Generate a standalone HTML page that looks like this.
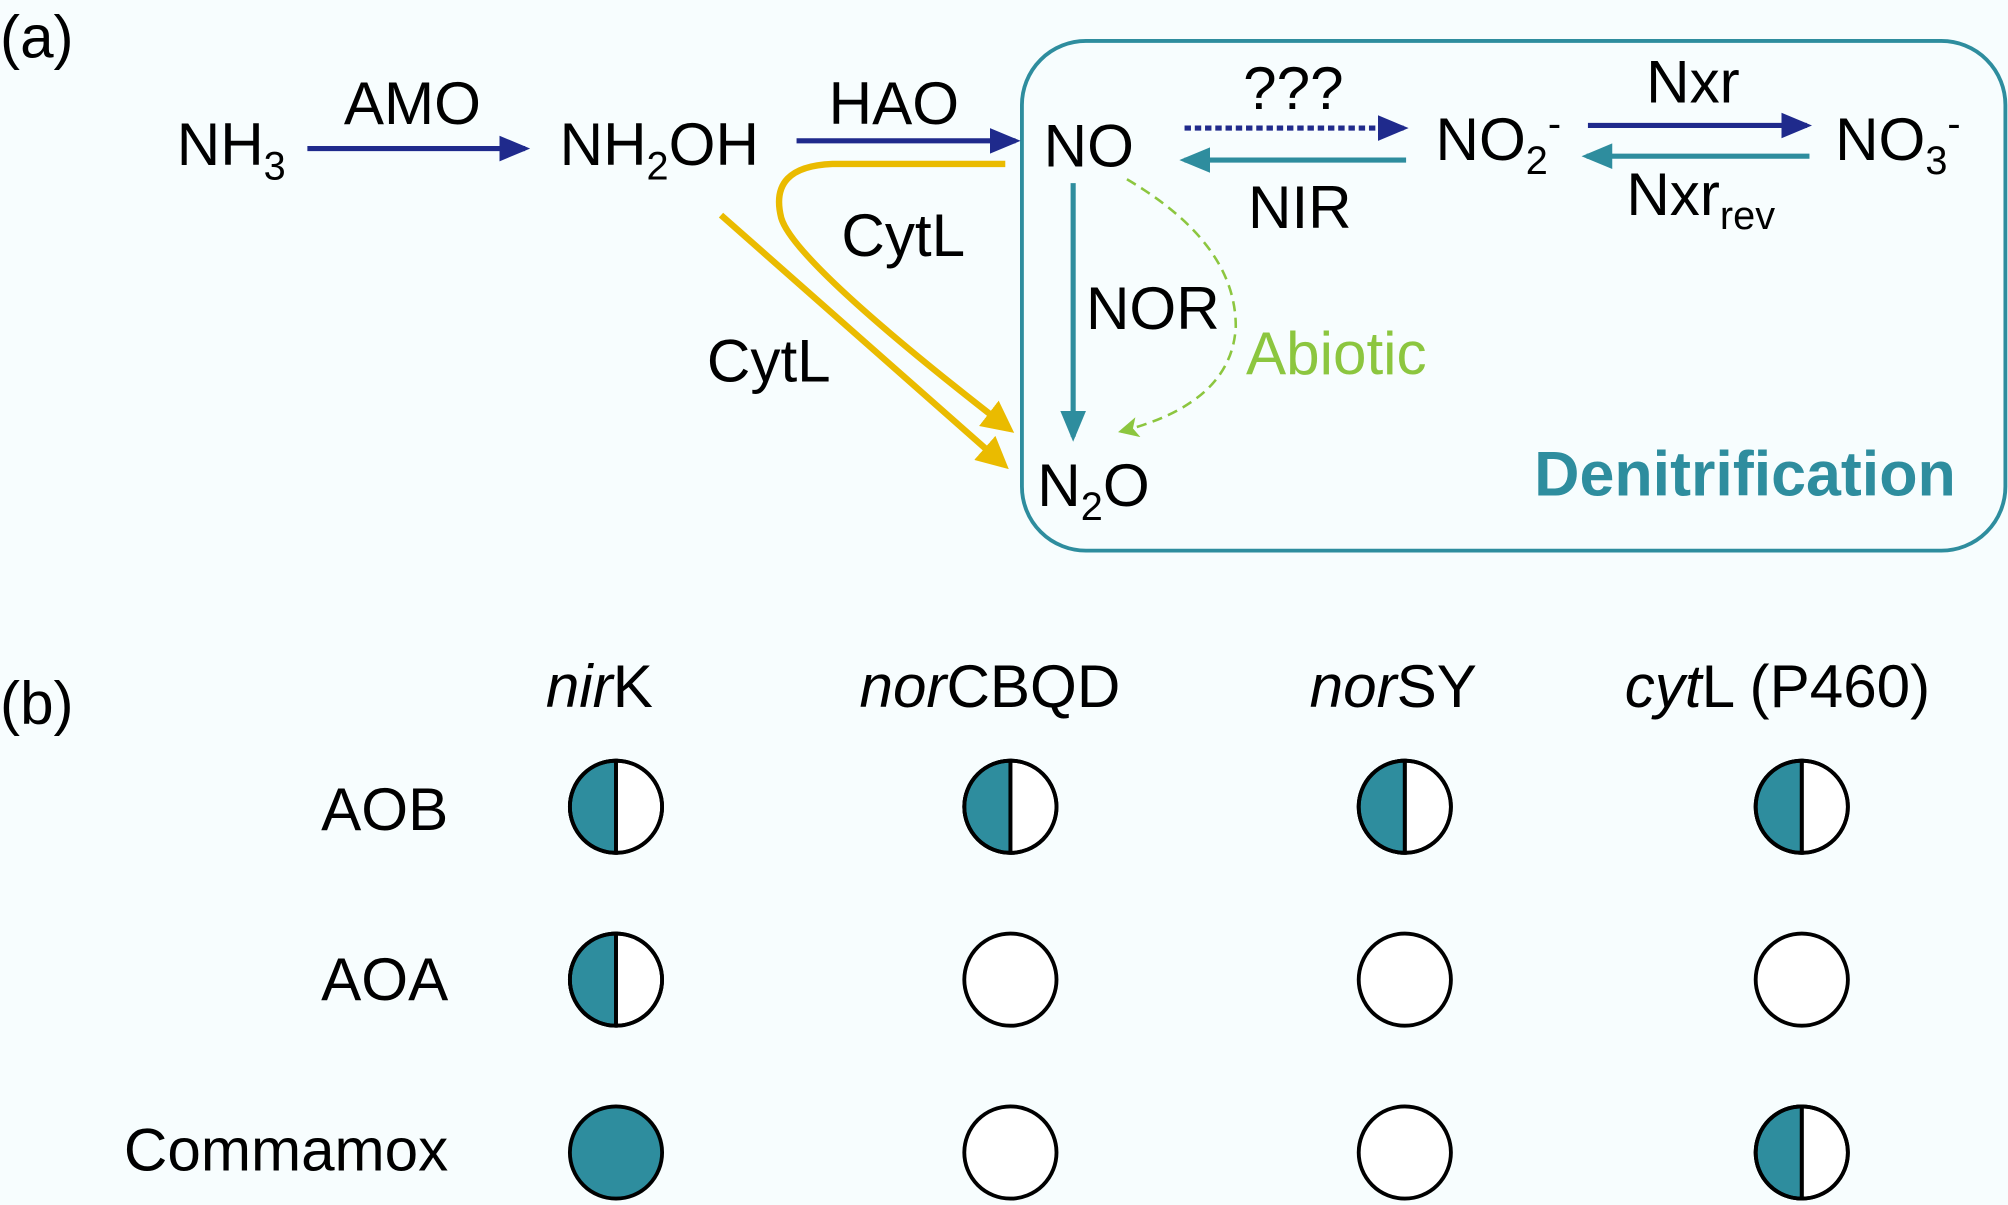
<!DOCTYPE html>
<html><head><meta charset="utf-8"><style>
html,body{margin:0;padding:0;background:#f7fdfe;}
svg{display:block;}
text{font-family:"Liberation Sans",sans-serif;fill:#000;}
</style></head><body>
<svg width="2008" height="1205" viewBox="0 0 1568 941" xmlns="http://www.w3.org/2000/svg">
<defs>
<marker id="an" markerWidth="6" markerHeight="6" refX="5" refY="3" orient="auto" markerUnits="strokeWidth"><path d="M0,0.5 L6,3 L0,5.5 Z" fill="#1f2a8c"/></marker>
<marker id="at" markerWidth="6" markerHeight="6" refX="5" refY="3" orient="auto" markerUnits="strokeWidth"><path d="M0,0.5 L6,3 L0,5.5 Z" fill="#2e8d9e"/></marker>
<marker id="ay" markerWidth="5" markerHeight="5" refX="4" refY="2.5" orient="auto" markerUnits="strokeWidth"><path d="M0,0 L5,2.5 L0,5 Z" fill="#eabb00"/></marker>
<marker id="ag" markerWidth="8" markerHeight="8" refX="7" refY="4" orient="auto" markerUnits="strokeWidth"><path d="M0,0 L8,4 L0,8 L2,4 Z" fill="#8cc63f"/></marker>
</defs>
<rect width="1568" height="941" fill="#f7fdfe"/>
<g font-size="47">
<text x="0" y="45">(a)</text>
<text x="138" y="129">NH<tspan font-size="31" dy="11">3</tspan></text>
<text x="322" y="97" text-anchor="middle">AMO</text>
<text x="437" y="129">NH<tspan font-size="31" dy="11">2</tspan><tspan dy="-11">OH</tspan></text>
<text x="698" y="97" text-anchor="middle">HAO</text>
<text x="815" y="130">NO</text>
<text x="1010" y="85" text-anchor="middle">???</text>
<text x="1015" y="178" text-anchor="middle">NIR</text>
<text x="1121" y="125">NO<tspan font-size="31" dy="11">2</tspan><tspan font-size="31" dy="-29">-</tspan></text>
<text x="1322" y="80" text-anchor="middle">Nxr</text>
<text x="1270" y="168">Nxr<tspan font-size="31" dy="11">rev</tspan></text>
<text x="1433" y="125">NO<tspan font-size="31" dy="11">3</tspan><tspan font-size="31" dy="-29">-</tspan></text>
<text x="848" y="257">NOR</text>
<text x="973" y="292" style="fill:#8cc63f">Abiotic</text>
<text x="810" y="395">N<tspan font-size="31" dy="11">2</tspan><tspan dy="-11">O</tspan></text>
<text x="657" y="200">CytL</text>
<text x="552" y="298">CytL</text>
<text x="1198" y="387" font-weight="bold" font-size="49" style="fill:#2e8d9e">Denitrification</text>
</g>
<rect x="798" y="32" width="768" height="398" rx="50" fill="none" stroke="#2e8d9e" stroke-width="3"/>
<g fill="none" stroke-width="4">
<line x1="240" y1="116" x2="410" y2="116" stroke="#1f2a8c" marker-end="url(#an)"/>
<line x1="622" y1="110" x2="793" y2="110" stroke="#1f2a8c" marker-end="url(#an)"/>
<line x1="925" y1="100" x2="1096" y2="100" stroke="#1f2a8c" stroke-dasharray="5,3" marker-end="url(#an)"/>
<line x1="1098" y1="125" x2="925" y2="125" stroke="#2e8d9e" marker-end="url(#at)"/>
<line x1="1240" y1="98" x2="1411" y2="98" stroke="#1f2a8c" marker-end="url(#an)"/>
<line x1="1413" y1="122" x2="1239" y2="122" stroke="#2e8d9e" marker-end="url(#at)"/>
<line x1="838" y1="143" x2="838" y2="341" stroke="#2e8d9e" marker-end="url(#at)"/>
<path d="M785,128 L650,128 Q600,130 610,170 Q620,205 788,335" stroke="#eabb00" stroke-width="5" marker-end="url(#ay)"/>
<line x1="563" y1="168" x2="784" y2="363" stroke="#eabb00" stroke-width="5" marker-end="url(#ay)"/>
<path d="M880,140 Q965,190 965,255 Q962,315 875,337" stroke="#8cc63f" stroke-width="2" stroke-dasharray="8,5" marker-end="url(#ag)"/>
</g>
<g font-size="47">
<text x="0" y="565">(b)</text>
<text x="468" y="552" text-anchor="middle"><tspan font-style="italic">nir</tspan>K</text>
<text x="773" y="552" text-anchor="middle"><tspan font-style="italic">nor</tspan>CBQD</text>
<text x="1088" y="552" text-anchor="middle"><tspan font-style="italic">nor</tspan>SY</text>
<text x="1388" y="552" text-anchor="middle"><tspan font-style="italic">cyt</tspan>L (P460)</text>
<text x="350" y="648" text-anchor="end">AOB</text>
<text x="350" y="781" text-anchor="end">AOA</text>
<text x="350" y="914" text-anchor="end">Commamox</text>
</g>
<g stroke="#000" stroke-width="3">
<g transform="translate(481,630)"><circle r="36" fill="#fff"/><path d="M0,-36 A36,36 0 0 0 0,36 Z" fill="#2e8d9e"/><line x1="0" y1="-36" x2="0" y2="36"/><circle r="36" fill="none"/></g>
<g transform="translate(789,630)"><circle r="36" fill="#fff"/><path d="M0,-36 A36,36 0 0 0 0,36 Z" fill="#2e8d9e"/><line x1="0" y1="-36" x2="0" y2="36"/><circle r="36" fill="none"/></g>
<g transform="translate(1097,630)"><circle r="36" fill="#fff"/><path d="M0,-36 A36,36 0 0 0 0,36 Z" fill="#2e8d9e"/><line x1="0" y1="-36" x2="0" y2="36"/><circle r="36" fill="none"/></g>
<g transform="translate(1407,630)"><circle r="36" fill="#fff"/><path d="M0,-36 A36,36 0 0 0 0,36 Z" fill="#2e8d9e"/><line x1="0" y1="-36" x2="0" y2="36"/><circle r="36" fill="none"/></g>
<g transform="translate(481,765)"><circle r="36" fill="#fff"/><path d="M0,-36 A36,36 0 0 0 0,36 Z" fill="#2e8d9e"/><line x1="0" y1="-36" x2="0" y2="36"/><circle r="36" fill="none"/></g>
<circle cx="789" cy="765" r="36" fill="#fff"/>
<circle cx="1097" cy="765" r="36" fill="#fff"/>
<circle cx="1407" cy="765" r="36" fill="#fff"/>
<circle cx="481" cy="900" r="36" fill="#2e8d9e"/>
<circle cx="789" cy="900" r="36" fill="#fff"/>
<circle cx="1097" cy="900" r="36" fill="#fff"/>
<g transform="translate(1407,900)"><circle r="36" fill="#fff"/><path d="M0,-36 A36,36 0 0 0 0,36 Z" fill="#2e8d9e"/><line x1="0" y1="-36" x2="0" y2="36"/><circle r="36" fill="none"/></g>
</g>
</svg>
</body></html>
